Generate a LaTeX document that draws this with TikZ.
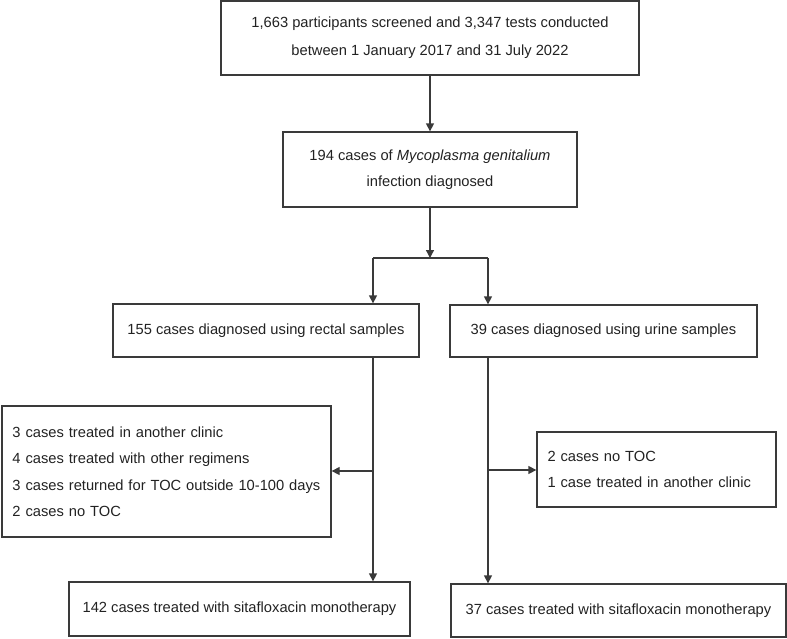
\documentclass[tikz,border=0pt]{standalone}
\usepackage{fontspec}
\setmainfont{Liberation Sans}
\usetikzlibrary{arrows.meta}
\definecolor{linec}{HTML}{3A3A3A}
\definecolor{textc}{HTML}{222222}
\begin{document}
\begin{tikzpicture}[x=1pt,y=-1pt,
  box/.style={draw=linec, line width=1.3pt, rectangle, inner sep=0pt, text=textc,
    font=\fontsize{14.7pt}{26.5pt}\selectfont},
  cbox/.style={box, align=center},
  lbox/.style={box, align=left, inner xsep=10.5pt},
  conn/.style={draw=linec, line width=1.3pt},
  arr/.style={conn, -{Triangle[length=8pt,width=8pt]}}]
\useasboundingbox (0,0) rectangle (787,638);

\node[cbox, minimum width=418pt, minimum height=74pt, font=\fontsize{14.7pt}{28pt}\selectfont] (b1) at (430,38)
  {1,663 participants screened and 3,347 tests conducted\\between 1 January 2017 and 31 July 2022};
\node[cbox, minimum width=294pt, minimum height=75pt] (b2) at (430,169.5)
  {194 cases of \textit{Mycoplasma genitalium}\\infection diagnosed};
\node[cbox, minimum width=306pt, minimum height=53pt] (b3) at (266,330.5)
  {155 cases diagnosed using rectal samples};
\node[cbox, minimum width=307pt, minimum height=52pt] (b4) at (603.5,331)
  {39 cases diagnosed using urine samples};
\node[lbox, minimum width=329pt, minimum height=131pt, text width=308pt] (b5) at (166.5,471.5)
  {3 cases treated in another clinic\\4 cases treated with other regimens\\3 cases returned for TOC outside 10-100 days\\2 cases no TOC};
\node[lbox, minimum width=239pt, minimum height=75pt, text width=218pt] (b6) at (656.5,469.5)
  {2 cases no TOC\\1 case treated in another clinic};
\node[cbox, minimum width=341pt, minimum height=54pt] (b7) at (239.5,609)
  {142 cases treated with sitafloxacin monotherapy};
\node[cbox, minimum width=335pt, minimum height=53pt] (b8) at (618.5,610.5)
  {37 cases treated with sitafloxacin monotherapy};

\coordinate (split) at (430,258);
\coordinate (sL) at (373,258);
\coordinate (sR) at (488,258);
\coordinate (rv) at (373,471);
\coordinate (uv) at (488,470);

\draw[arr] (b1) -- (b2);
\draw[arr] (b2) -- (split);
\draw[conn] (sL) -- (sR);
\draw[arr] (sL) -- (sL |- b3.north);
\draw[arr] (sR) -- (sR |- b4.north);
\draw[arr] (sL |- b3.south) -- (sL |- b7.north);
\draw[arr] (rv) -- (rv -| b5.east);
\draw[arr] (sR |- b4.south) -- (sR |- b8.north);
\draw[arr] (uv) -- (uv -| b6.west);
\end{tikzpicture}
\end{document}
